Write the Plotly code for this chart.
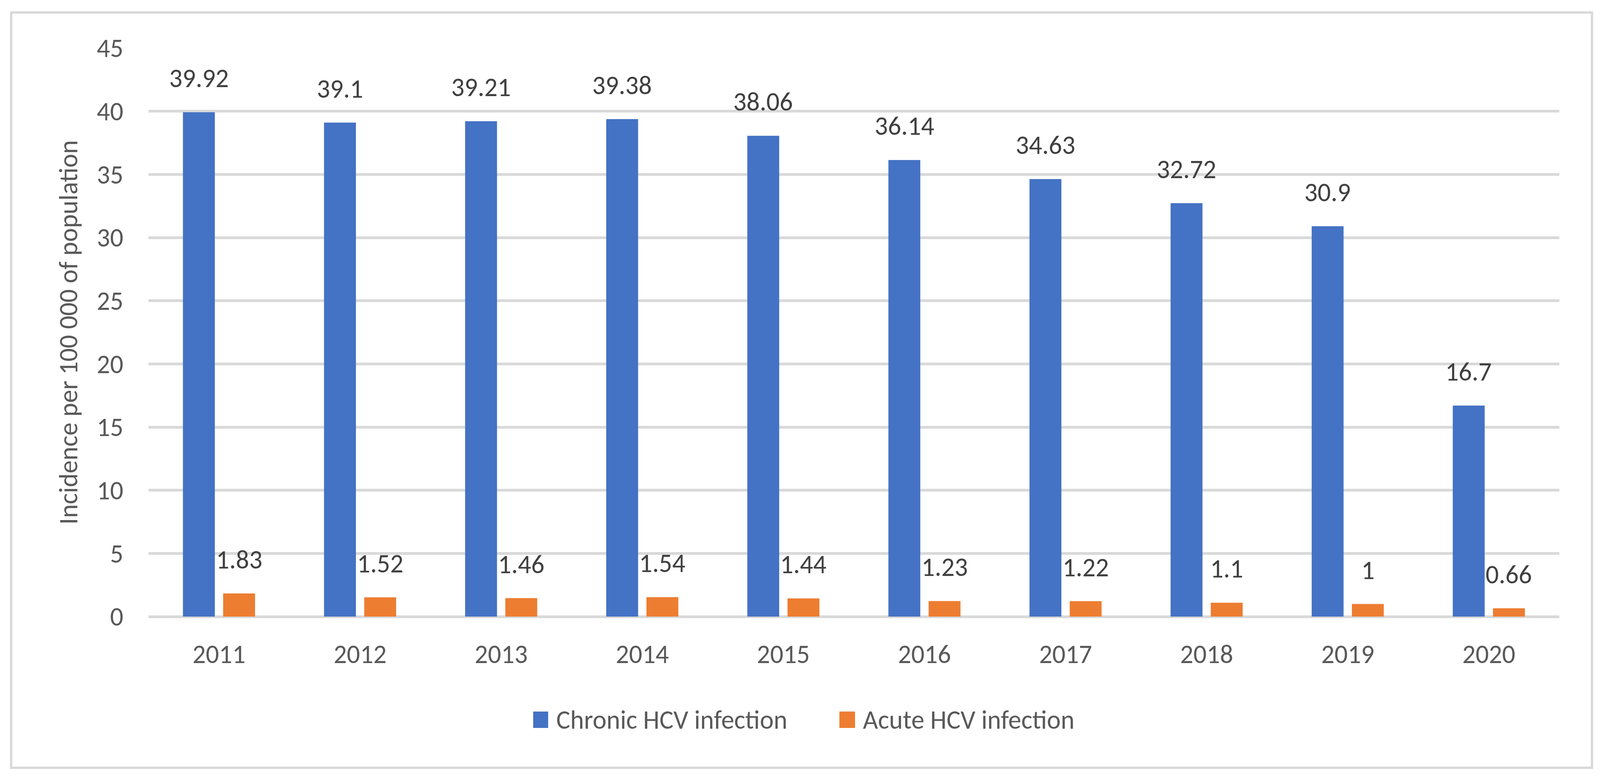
import plotly.graph_objects as go

years = ["2011", "2012", "2013", "2014", "2015", "2016", "2017", "2018", "2019", "2020"]
chronic = [39.92, 39.1, 39.21, 39.38, 38.06, 36.14, 34.63, 32.72, 30.9, 16.7]
acute = [1.83, 1.52, 1.46, 1.54, 1.44, 1.23, 1.22, 1.1, 1.0, 0.66]
chronic_labels = ["39.92", "39.1", "39.21", "39.38", "38.06", "36.14", "34.63", "32.72", "30.9", "16.7"]
acute_labels = ["1.83", "1.52", "1.46", "1.54", "1.44", "1.23", "1.22", "1.1", "1", "0.66"]
y_ticks = [0, 5, 10, 15, 20, 25, 30, 35, 40, 45]
series_names = ["Chronic HCV infection", "Acute HCV infection"]
series_colors = ["#4472C4", "#ED7D31"]

FONT = "Carlito, Lato, sans-serif"
FS = 67
GRID = "#d9d9d9"
BARGAP = 0.43
OFF = (1 - BARGAP) / 4  # centre offset of each bar within its group (category units)

fig = go.Figure()
fig.add_trace(go.Bar(x=years, y=chronic, name=series_names[0], showlegend=False,
                     marker=dict(color=series_colors[0], line=dict(width=0))))
fig.add_trace(go.Bar(x=years, y=acute, name=series_names[1], showlegend=False,
                     marker=dict(color=series_colors[1], line=dict(width=0))))

annotations = []
for i, (v, t) in enumerate(zip(chronic, chronic_labels)):
    annotations.append(dict(x=i - OFF, y=v, text=t, xref="x", yref="y", showarrow=False,
                            xanchor="center", yanchor="bottom", yshift=44,
                            font=dict(family=FONT, size=FS, color="#404040")))
for i, (v, t) in enumerate(zip(acute, acute_labels)):
    annotations.append(dict(x=i + OFF, y=v, text=t, xref="x", yref="y", showarrow=False,
                            xanchor="center", yanchor="bottom", yshift=44,
                            font=dict(family=FONT, size=FS, color="#404040")))

# custom legend (larger swatches, as in the reference)
leg_rects = [(0.2727, 0.2833), (0.4897, 0.5008)]
leg_text_x = [0.2884, 0.5059]
shapes = [dict(type="rect", xref="paper", yref="paper", x0=-0.0973, x1=1.0231,
               y0=-0.266, y1=1.0625, line=dict(color=GRID, width=6), layer="below")]
for (x0, x1), tx, name, col in zip(leg_rects, leg_text_x, series_names, series_colors):
    shapes.append(dict(type="rect", xref="paper", yref="paper", x0=x0, x1=x1,
                       y0=-0.1959, y1=-0.1670, fillcolor=col, line=dict(width=0)))
    annotations.append(dict(x=tx, y=-0.1815, xref="paper", yref="paper", text=name,
                            showarrow=False, xanchor="left", yanchor="middle",
                            font=dict(family=FONT, size=FS, color="#595959")))

fig.update_layout(
    width=4416, height=1986,
    margin=dict(l=410, r=112, t=123, b=408),
    paper_bgcolor="white", plot_bgcolor="white",
    barmode="group", bargap=BARGAP, bargroupgap=0.207,
    font=dict(family=FONT, size=FS, color="#595959"),
    showlegend=False,
    annotations=annotations,
    shapes=shapes,
)
fig.update_xaxes(type="category", range=[-0.5, 9.5], showgrid=False, showline=False,
                 zeroline=False, automargin=False,
                 ticks="outside", ticklen=38, tickcolor="rgba(0,0,0,0)",
                 tickfont=dict(family=FONT, size=FS, color="#595959"))
fig.update_yaxes(range=[0, 45], tickvals=y_ticks, showgrid=True, gridcolor=GRID, gridwidth=7,
                 zeroline=True, zerolinecolor=GRID, zerolinewidth=7, showline=False,
                 automargin=False,
                 ticks="outside", ticklen=50, tickcolor="rgba(0,0,0,0)",
                 tickfont=dict(family=FONT, size=FS, color="#595959"),
                 title=dict(text="Incidence per 100 000 of population", standoff=27,
                            font=dict(family=FONT, size=FS, color="#595959")))

# fit the figure to the actual browser viewport, keeping the reference proportions
post = """
document.body.style.margin = '0';
document.documentElement.style.overflow = 'hidden';
var gd = document.getElementById('{plot_id}');
var W = window.innerWidth, H = window.innerHeight;
if (W && H && (W !== 4416 || H !== 1986)) {
  var kx = W / 4416, ky = H / 1986;
  Plotly.relayout(gd, {width: W, height: H,
    'margin.l': 410 * kx, 'margin.r': 112 * kx,
    'margin.t': 123 * ky, 'margin.b': 408 * ky});
}
"""
fig.write_html("out.html", post_script=post, config={"displayModeBar": False})
